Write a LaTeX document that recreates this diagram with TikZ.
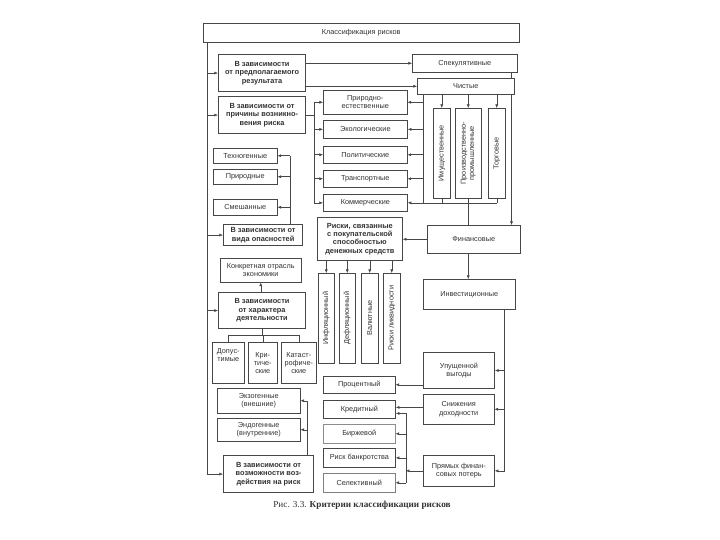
\documentclass[tikz,border=0pt]{standalone}
\usepackage{fontspec}
\setmainfont{Liberation Sans}
\newfontfamily\capfont{Liberation Serif}
\usetikzlibrary{arrows.meta,calc}
\newcommand{\fsn}{\fontsize{7.3}{8.2}\selectfont}
\newcommand{\fbd}{\fontsize{7.4}{8.4}\selectfont\bfseries}
\newcommand{\rb}[7]{\node[#1,anchor=north west,minimum width={(#5-#3)*1pt},minimum height={(#6-#4)*1pt}] (#2) at (#3,#4) {#7};}
\begin{document}
\begin{tikzpicture}[x=1pt,y=-1pt,
  box/.style={draw=black!72, line width=0.5pt, fill=white, align=center, inner sep=1pt, font=\fsn, text=black!80},
  bbox/.style={box, line width=1.1pt, font=\fbd},
  vlab/.style={rotate=90, align=center, font=\fsn, text=black!80, inner sep=0pt},
  ln/.style={draw=black!72, line width=0.5pt},
  arr/.style={draw=black!72, line width=0.5pt, -{Latex[length=3.6pt,width=3pt]}}]
\useasboundingbox (0,0) rectangle (720,540);
% ---- boxes ----
\rb{box}{title}{203}{23}{519}{42}{Классификация рисков}
\rb{bbox}{B1}{218}{54}{305}{91}{В зависимости\\от предполагаемого\\результата}
\rb{bbox}{B2}{218}{96}{305}{133}{В зависимости от\\причины возникно-\\вения риска}
\rb{bbox}{B3}{223}{224}{302}{245}{В зависимости от\\вида опасностей}
\rb{bbox}{B4}{218}{292}{305}{328}{В зависимости\\от характера\\деятельности}
\rb{bbox}{B5}{223}{455}{313}{492}{В зависимости от\\возможности воз-\\действия на риск}
\rb{box}{spec}{412}{54}{517}{72}{Спекулятивные}
\rb{box}{prir}{323}{90}{407}{114}{Природно-\\естественные}
\rb{box,line width=0.7pt}{eco}{323}{120}{407}{138}{Экологические}
\rb{box}{pol}{323}{146}{407}{163}{Политические}
\rb{box}{trans}{323}{170}{407}{187}{Транспортные}
\rb{box,line width=0.7pt}{comm}{323}{194}{407}{211}{Коммерческие}
\rb{box,label={[vlab]center:Имущественные}}{imu}{433}{108}{450}{198}{}
\rb{box,label={[vlab]center:{Производственно-\\промышленные}}}{proizv}{455}{108}{481}{198}{}
\rb{box,label={[vlab]center:Торговые}}{torg}{488}{108}{505}{198}{}
\rb{box}{tech}{213}{148}{277}{163}{Техногенные}
\rb{box}{nat}{213}{169}{277}{184}{Природные}
\rb{box}{mix}{213}{199}{277}{215}{Смешанные}
\rb{box,line width=0.7pt,font=\fbd}{risks}{317}{217}{402}{260}{Риски, связанные\\с покупательской\\способностью\\денежных средств}
\rb{box}{fin}{427}{225}{520}{253}{Финансовые}
\rb{box,label={[vlab]center:Инфляционный}}{infl}{318}{273}{334}{363}{}
\rb{box,label={[vlab]center:Дефляционный}}{defl}{339}{273}{355}{363}{}
\rb{box,label={[vlab]center:Валютные}}{val}{361}{273}{378}{363}{}
\rb{box,label={[vlab]center:Риски ликвидности}}{liq}{383}{273}{400}{363}{}
\rb{box}{inv}{423}{279}{515}{309}{Инвестиционные}
\rb{box}{konk}{220}{258}{301}{282}{Конкретная отрасль\\экономики}
\rb{box}{dop}{212}{342}{244}{383}{Допус-\\тимые\\[7pt]}
\rb{box}{krit}{248}{342}{277}{383}{Кри-\\тиче-\\ские}
\rb{box}{kat}{281}{342}{316}{383}{Катаст-\\рофиче-\\ские}
\rb{box}{proc}{323}{376}{395}{393}{Процентный}
\rb{box,line width=0.8pt}{cred}{323}{400}{395}{418}{Кредитный}
\rb{box,draw=black!45}{birzh}{323}{424}{395}{443}{Биржевой}
\rb{box,line width=0.7pt}{bankr}{323}{448}{395}{467}{Риск банкротства}
\rb{box,draw=black!50}{sel}{323}{473}{395}{492}{Селективный}
\rb{box,line width=1pt}{upush}{423}{352}{494}{388}{Упущенной\\выгоды}
\rb{box}{sniz}{423}{394}{494}{424}{Снижения\\доходности}
\rb{box,line width=0.7pt}{pryam}{423}{455}{494}{486}{Прямых финан-\\совых потерь}
\rb{box}{exo}{217}{388}{300}{413}{Экзогенные\\(внешние)}
\rb{box}{endo}{217}{418}{300}{441}{Эндогенные\\(внутренние)}
\rb{box}{pure}{417}{78}{514}{94}{Чистые}
% ---- main left line ----
\coordinate (L) at ($(title.south west)+(4,0)$);
\draw[ln] (L) -- (L |- B5.west);
\foreach \b in {B1,B2,B3,B4,B5} \draw[arr] (L |- \b.west) -- (\b.west);
% ---- B1 ----
\draw[arr] (B1.east |- spec.west) -- (spec.west);
\draw[arr] (B1.east |- pure.west) -- (pure.west);
% ---- B2 ----
\coordinate (M) at ($(B2.east)+(8,0)$);
\draw[ln] (B2.east) -- (M);
\draw[ln] (M |- prir.west) -- (M |- comm.west);
\foreach \b in {prir,eco,pol,trans,comm} \draw[arr] (M |- \b.west) -- (\b.west);
% ---- pure ----
\coordinate (P) at ($(pure.south west)+(6,0)$);
\draw[ln] (P) -- (P |- comm.east);
\foreach \b in {prir,eco,pol,trans} \draw[arr] (P |- \b.east) -- (\b.east);
\foreach \b in {imu,proizv,torg} \draw[arr] (pure.south -| \b.north) -- (\b.north);
% ---- commercial ----
\draw[arr] (torg.south |- comm.east) -- (comm.east);
\foreach \b in {imu,proizv,torg} \draw[ln] (\b.south) -- (\b.south |- comm.east);
\draw[ln] (proizv.south |- comm.east) -- (proizv.south |- fin.north);
% ---- speculative ----
\coordinate (S) at ($(spec.south east)+(-6,0)$);
\draw[ln] (S) -- (S |- pure.north);
\draw[arr] (S |- pure.south) -- (S |- fin.north);
% ---- financial ----
\draw[arr] (fin.west) -- (risks.east |- fin.west);
\foreach \b in {infl,defl,val,liq} \draw[arr] (risks.south -| \b.north) -- (\b.north);
\draw[arr] (fin.south -| proizv.south) -- (inv.north -| proizv.south);
\coordinate (R) at ($(inv.south east)+(-11,0)$);
\draw[ln] (R) -- (R |- pryam.east);
\foreach \b in {upush,sniz,pryam} \draw[arr] (R |- \b.east) -- (\b.east);
\draw[arr] (upush.west |- proc.east) -- (proc.east);
\draw[arr] ($(sniz.west |- cred.east)+(0,-2)$) -- ($(cred.east)+(0,-2)$);
\coordinate (Q) at ($(cred.east)+(10,4)$);
\draw[ln] (Q) -- (Q |- sel.east);
\draw[arr] (Q) -- (Q -| cred.east);
\foreach \b in {birzh,bankr,sel} \draw[arr] (Q |- \b.east) -- (\b.east);
\draw[arr] (pryam.west) -- (Q |- pryam.west);
% ---- B3 ----
\coordinate (D) at ($(B3.north west)+(67,0)$);
\draw[ln] (D) -- (D |- tech.east);
\foreach \b in {tech,nat,mix} \draw[arr] (D |- \b.east) -- (\b.east);
% ---- B4 ----
\draw[arr] (B4.north -| konk.south) -- (konk.south);
\coordinate (Bk) at ($(B4.south)+(0,6)$);
\draw[ln] (B4.south) -- (Bk);
\draw[ln] (Bk -| dop.north) -- (Bk -| kat.north);
\foreach \b in {dop,krit,kat} \draw[ln] (Bk -| \b.north) -- (\b.north);
% ---- B5 ----
\coordinate (E) at ($(B5.north east)+(-7,0)$);
\draw[ln] (E) -- (E |- exo.east);
\foreach \b in {exo,endo} \draw[arr] (E |- \b.east) -- (\b.east);
% ---- caption ----
\node[font=\capfont\fontsize{9.2}{11}\selectfont, text=black!80] (cap) at (362,505) {Рис. 3.3. \textbf{Критерии классификации рисков}};
\end{tikzpicture}
\end{document}
